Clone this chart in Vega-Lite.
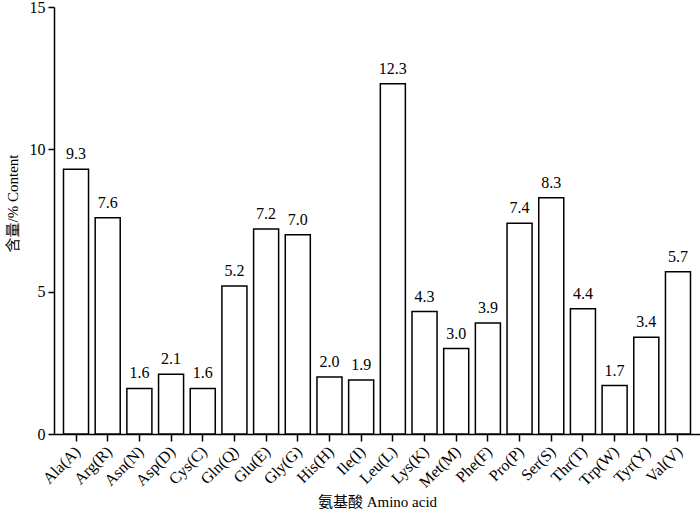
{
  "$schema": "https://vega.github.io/schema/vega-lite/v6.json",
  "autosize": "none",
  "width": 646,
  "height": 427,
  "padding": {"left": 54, "top": 7, "right": 0, "bottom": 77},
  "background": "white",
  "config": {
    "view": {"stroke": null},
    "font": "Times New Roman, Liberation Serif, serif",
    "axis": {"labelFont": "Times New Roman, Liberation Serif, serif", "titleFont": "Times New Roman, Liberation Serif, Noto Sans CJK SC", "labelColor": "black", "titleColor": "black", "domainColor": "black", "tickColor": "black", "labelFontSize": 16, "titleFontSize": 15, "titleFontWeight": "normal", "grid": false, "domainWidth": 1.5, "tickWidth": 1.5}
  },
  "data": {"values": [
    {"aa": "Ala(A)", "v": 9.3},
    {"aa": "Arg(R)", "v": 7.6},
    {"aa": "Asn(N)", "v": 1.6},
    {"aa": "Asp(D)", "v": 2.1},
    {"aa": "Cys(C)", "v": 1.6},
    {"aa": "Gln(Q)", "v": 5.2},
    {"aa": "Glu(E)", "v": 7.2},
    {"aa": "Gly(G)", "v": 7.0},
    {"aa": "His(H)", "v": 2.0},
    {"aa": "Ile(I)", "v": 1.9},
    {"aa": "Leu(L)", "v": 12.3},
    {"aa": "Lys(K)", "v": 4.3},
    {"aa": "Met(M)", "v": 3.0},
    {"aa": "Phe(F)", "v": 3.9},
    {"aa": "Pro(P)", "v": 7.4},
    {"aa": "Ser(S)", "v": 8.3},
    {"aa": "Thr(T)", "v": 4.4},
    {"aa": "Trp(W)", "v": 1.7},
    {"aa": "Tyr(Y)", "v": 3.4},
    {"aa": "Val(V)", "v": 5.7}
  ]},
  "encoding": {
    "x": {"field": "aa", "type": "nominal", "sort": null,
      "scale": {"paddingInner": 0.21, "paddingOuter": 0.3},
      "axis": {"title": "氨基酸 Amino acid", "labelAngle": -45, "labelOffset": -4, "tickSize": 7, "labelPadding": 2, "titlePadding": 4}},
    "y": {"field": "v", "type": "quantitative",
      "scale": {"domain": [0, 15], "nice": false},
      "axis": {"title": "含量/% Content", "titleY": 196, "values": [0, 5, 10, 15], "tickSize": 6, "labelPadding": 3, "titlePadding": 9}}
  },
  "layer": [
    {"mark": {"type": "bar", "fill": "white", "stroke": "black", "strokeWidth": 1.5}},
    {"mark": {"type": "text", "baseline": "alphabetic", "dy": -10, "fontSize": 16, "font": "Times New Roman, Liberation Serif, serif", "color": "black"},
     "encoding": {"text": {"field": "v", "type": "quantitative", "format": ".1f"}}}
  ]
}
